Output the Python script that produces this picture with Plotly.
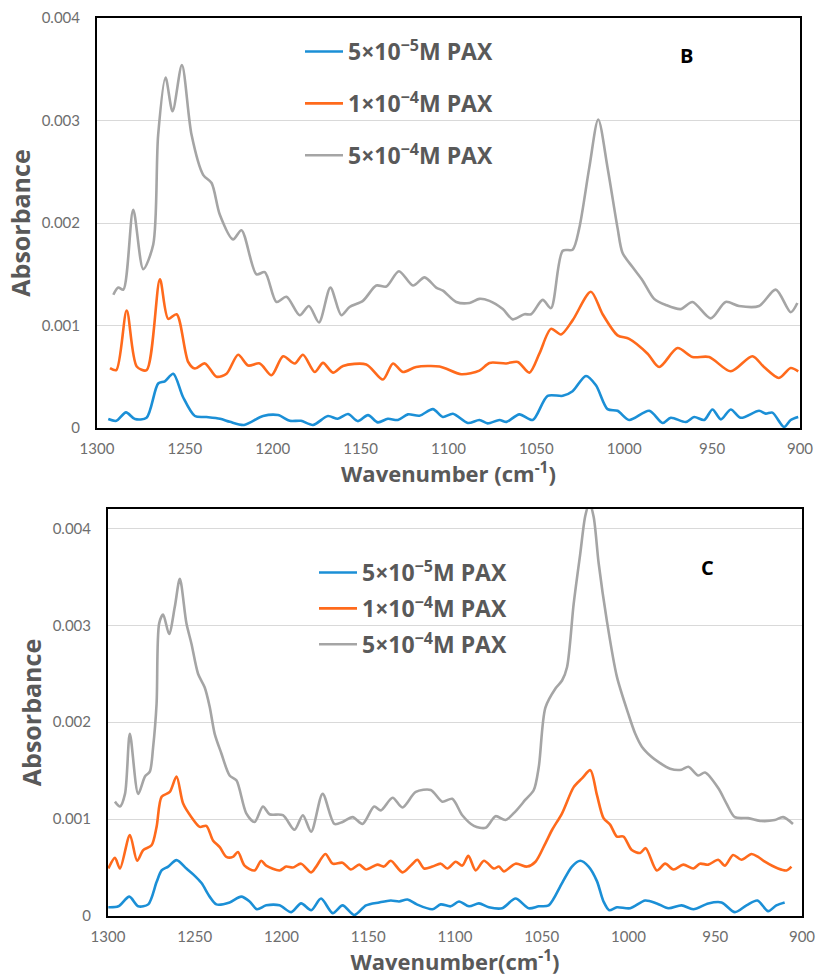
import plotly.graph_objects as go

# ---------------- Panel B data ----------------
b_gray_x = [1290.7, 1287.9, 1285.0, 1279.4, 1273.7, 1268.0, 1265.2, 1261.0, 1257.0, 1251.7, 1246.2,
            1239.6, 1234.8, 1230.1, 1222.6, 1217.8, 1209.3, 1204.5, 1197.9, 1192.2, 1184.7, 1179.4,
            1173.7, 1167.2, 1161.0, 1156.3, 1148.7, 1141.1, 1135.4, 1128.2, 1120.2, 1113.6, 1107.0,
            1103.2, 1095.6, 1088.0, 1082.4, 1076.7, 1069.1, 1063.4, 1056.8, 1053.0, 1046.4, 1041.7,
            1035.0, 1029.4, 1025.6, 1019.9, 1014.8, 1009.5, 1003.8, 1001.0, 995.3, 989.6, 983.0,
            976.3, 967.8, 961.2, 950.8, 942.3, 934.7, 923.3, 913.8, 905.3, 901.5]
b_gray_y = [1.30, 1.37, 1.35, 2.13, 1.55, 1.79, 2.86, 3.42, 3.09, 3.54, 2.86,
            2.47, 2.39, 2.08, 1.84, 1.93, 1.50, 1.52, 1.23, 1.28, 1.10, 1.19,
            1.03, 1.37, 1.10, 1.18, 1.24, 1.39, 1.38, 1.53, 1.39, 1.47, 1.37,
            1.34, 1.23, 1.22, 1.26, 1.24, 1.16, 1.06, 1.11, 1.11, 1.25, 1.17,
            1.73, 1.74, 1.95, 2.54, 3.01, 2.54, 1.95, 1.71, 1.57, 1.44, 1.26,
            1.20, 1.16, 1.23, 1.07, 1.23, 1.19, 1.19, 1.35, 1.13, 1.22]

b_orange_x = [1292.6, 1289.0, 1283.1, 1277.4, 1271.8, 1264.2, 1259.5, 1254.7, 1248.1, 1244.3, 1238.6,
              1232.0, 1226.3, 1219.7, 1214.0, 1207.4, 1200.7, 1194.1, 1187.5, 1182.8, 1176.1, 1171.4,
              1165.7, 1160.0, 1146.8, 1137.3, 1131.6, 1126.0, 1118.4, 1105.1, 1092.8, 1082.4, 1076.7,
              1067.2, 1060.6, 1054.0, 1048.3, 1041.7, 1036.0, 1029.4, 1019.0, 1012.3, 1003.8, 997.2,
              986.7, 980.1, 969.7, 961.2, 951.7, 939.4, 927.1, 920.5, 912.0, 905.3, 901.0]
b_orange_y = [0.585, 0.565, 1.146, 0.600, 0.564, 1.450, 1.065, 1.110, 0.644, 0.580, 0.630,
              0.500, 0.530, 0.715, 0.610, 0.630, 0.515, 0.700, 0.630, 0.715, 0.547, 0.635,
              0.540, 0.605, 0.620, 0.473, 0.630, 0.547, 0.595, 0.600, 0.525, 0.560, 0.635,
              0.630, 0.645, 0.540, 0.725, 0.967, 0.913, 1.050, 1.330, 1.110, 0.904, 0.870,
              0.725, 0.595, 0.780, 0.693, 0.693, 0.553, 0.700, 0.595, 0.488, 0.585, 0.553]

b_blue_x = [1293.6, 1289.0, 1283.5, 1278.4, 1271.8, 1265.2, 1261.4, 1256.6, 1251.0, 1244.3, 1237.7,
            1230.0, 1224.4, 1216.3, 1205.5, 1197.0, 1190.3, 1184.0, 1177.1, 1168.6, 1163.0, 1157.2,
            1151.5, 1145.8, 1140.2, 1134.5, 1128.8, 1123.1, 1116.5, 1108.9, 1103.2, 1097.5, 1089.0,
            1082.4, 1077.7, 1071.0, 1067.0, 1059.7, 1052.1, 1043.6, 1035.0, 1029.4, 1021.8, 1016.1,
            1009.5, 1003.8, 997.2, 985.8, 978.2, 973.5, 965.0, 960.2, 954.5, 949.8, 945.0,
            939.4, 933.7, 923.3, 919.5, 915.7, 909.1, 905.3, 901.0]
b_blue_y = [0.087, 0.070, 0.152, 0.087, 0.100, 0.434, 0.456, 0.530, 0.300, 0.117, 0.107,
            0.090, 0.060, 0.030, 0.117, 0.126, 0.070, 0.070, 0.030, 0.117, 0.090, 0.136,
            0.067, 0.126, 0.055, 0.090, 0.078, 0.133, 0.120, 0.184, 0.107, 0.139, 0.049,
            0.078, 0.045, 0.078, 0.060, 0.133, 0.078, 0.314, 0.314, 0.359, 0.508, 0.417,
            0.184, 0.168, 0.078, 0.168, 0.049, 0.100, 0.058, 0.107, 0.078, 0.181, 0.084,
            0.181, 0.100, 0.168, 0.140, 0.150, 0.010, 0.078, 0.107]

# ---------------- Panel C data ----------------
c_gray_x = [1296.0, 1293.1, 1290.2, 1287.4, 1282.6, 1278.7, 1275.9, 1274.0, 1272.0, 1270.5, 1268.2,
            1264.8, 1261.5, 1258.6, 1254.8, 1251.9, 1248.1, 1244.3, 1241.4, 1238.5, 1234.7, 1229.9,
            1226.0, 1220.3, 1215.5, 1210.7, 1206.9, 1199.2, 1192.5, 1187.7, 1182.9, 1176.3, 1169.5,
            1164.8, 1159.0, 1153.3, 1146.6, 1142.7, 1136.0, 1130.3, 1122.6, 1114.0, 1107.3, 1101.6,
            1095.8, 1089.1, 1082.4, 1076.6, 1070.9, 1065.1, 1059.4, 1054.6, 1051.7, 1047.9, 1042.0,
            1038.3, 1035.4, 1031.6, 1027.8, 1024.9, 1022.5, 1020.1, 1017.2, 1012.5, 1006.7, 1000.0,
            996.1, 992.4, 986.6, 982.8, 976.0, 969.4, 965.5, 959.8, 955.9, 948.3, 943.5,
            938.7, 931.0, 923.4, 915.7, 910.9, 905.2]
c_gray_y = [1.18, 1.13, 1.26, 1.88, 1.26, 1.44, 1.49, 1.74, 2.19, 3.02, 3.11,
            2.91, 3.19, 3.48, 3.02, 2.81, 2.50, 2.36, 2.16, 1.88, 1.68, 1.45,
            1.40, 1.06, 0.97, 1.13, 1.05, 1.04, 0.89, 1.04, 0.87, 1.26, 0.95,
            0.97, 1.02, 0.95, 1.13, 1.09, 1.22, 1.12, 1.28, 1.30, 1.18, 1.21,
            1.04, 0.93, 0.91, 1.03, 0.99, 1.08, 1.20, 1.30, 1.54, 2.15, 2.35,
            2.43, 2.57, 3.22, 3.74, 4.13, 4.26, 4.12, 3.64, 3.05, 2.47, 2.08,
            1.88, 1.75, 1.64, 1.59, 1.52, 1.51, 1.54, 1.45, 1.48, 1.32, 1.16,
            1.02, 1.01, 0.98, 0.99, 1.02, 0.95]

c_orange_x = [1299.8, 1296.0, 1293.1, 1287.4, 1283.2, 1279.7, 1274.9, 1272.0, 1269.1, 1264.4, 1260.5,
              1256.7, 1251.9, 1247.1, 1243.3, 1239.5, 1235.6, 1231.8, 1228.0, 1225.1, 1221.3, 1215.5,
              1211.7, 1208.8, 1201.1, 1197.3, 1193.5, 1188.7, 1182.9, 1180.0, 1174.7, 1170.5, 1164.8,
              1160.0, 1155.2, 1151.3, 1144.7, 1141.0, 1137.0, 1130.3, 1125.0, 1121.7, 1117.8, 1113.0,
              1108.2, 1104.4, 1099.6, 1095.8, 1092.3, 1088.1, 1083.3, 1077.6, 1074.7, 1071.8, 1065.1,
              1058.4, 1053.6, 1047.9, 1044.0, 1038.3, 1031.6, 1026.8, 1022.0, 1018.2, 1014.4, 1010.5,
              1006.7, 1002.9, 998.1, 993.3, 990.1, 983.7, 978.9, 974.1, 968.4, 962.6, 958.8,
              954.0, 948.3, 944.4, 939.7, 934.9, 929.1, 925.3, 921.4, 913.8, 909.0, 906.1]
c_orange_y = [0.49, 0.60, 0.49, 0.835, 0.57, 0.68, 0.73, 0.92, 1.23, 1.28, 1.44,
              1.16, 1.02, 0.92, 0.93, 0.78, 0.71, 0.61, 0.61, 0.66, 0.52, 0.47,
              0.57, 0.52, 0.47, 0.51, 0.50, 0.54, 0.45, 0.51, 0.64, 0.54, 0.55,
              0.48, 0.53, 0.48, 0.53, 0.51, 0.57, 0.45, 0.53, 0.58, 0.49, 0.51,
              0.54, 0.49, 0.56, 0.52, 0.62, 0.47, 0.57, 0.49, 0.51, 0.46, 0.54,
              0.51, 0.56, 0.75, 0.89, 1.06, 1.33, 1.42, 1.505, 1.25, 1.01, 0.94,
              0.82, 0.82, 0.68, 0.65, 0.70, 0.47, 0.54, 0.48, 0.53, 0.49, 0.54,
              0.53, 0.58, 0.52, 0.63, 0.58, 0.64, 0.61, 0.56, 0.49, 0.47, 0.51]

c_blue_x = [1299.8, 1294.0, 1287.7, 1282.6, 1276.8, 1272.0, 1269.1, 1265.3, 1260.5, 1254.8, 1250.9,
            1246.1, 1241.4, 1237.5, 1229.9, 1223.2, 1218.4, 1214.2, 1208.8, 1201.1, 1194.4, 1188.7,
            1182.9, 1177.2, 1170.5, 1164.8, 1158.0, 1151.3, 1143.7, 1137.0, 1132.2, 1127.4, 1122.0,
            1113.0, 1108.2, 1102.5, 1097.7, 1091.9, 1086.2, 1080.5, 1072.8, 1065.1, 1057.5, 1051.7,
            1046.0, 1038.3, 1032.6, 1027.8, 1023.0, 1018.2, 1014.4, 1011.1, 1006.7, 999.0, 990.4,
            983.7, 977.0, 969.4, 962.6, 954.0, 946.4, 938.7, 932.0, 925.7, 919.5, 914.8, 910.0]
c_blue_y = [0.09, 0.10, 0.20, 0.10, 0.12, 0.35, 0.47, 0.51, 0.577, 0.49, 0.43,
            0.34, 0.20, 0.12, 0.14, 0.20, 0.15, 0.07, 0.11, 0.11, 0.04, 0.13,
            0.06, 0.18, 0.03, 0.11, 0.01, 0.11, 0.14, 0.16, 0.15, 0.17, 0.12,
            0.07, 0.12, 0.10, 0.15, 0.10, 0.13, 0.09, 0.08, 0.18, 0.08, 0.10,
            0.11, 0.34, 0.51, 0.57, 0.51, 0.36, 0.15, 0.06, 0.09, 0.08, 0.16,
            0.13, 0.08, 0.11, 0.07, 0.13, 0.14, 0.04, 0.11, 0.16, 0.05, 0.11, 0.14]

series_names = ["<b>5×10<sup>−5</sup>M PAX</b>", "<b>1×10<sup>−4</sup>M PAX</b>",
                "<b>5×10<sup>−4</sup>M PAX</b>"]
series_colors = ["#1b8fd6", "#ff6a1c", "#a5a5a5"]

y_ticks = [0, 0.001, 0.002, 0.003, 0.004]
y_ticktext = ["0", "0.001", "0.002", "0.003", "0.004"]
x_ticks = [1300, 1250, 1200, 1150, 1100, 1050, 1000, 950, 900]

W, H = 818, 978
fig = go.Figure()

panel_b = [(b_blue_x, b_blue_y), (b_orange_x, b_orange_y), (b_gray_x, b_gray_y)]
panel_c = [(c_blue_x, c_blue_y), (c_orange_x, c_orange_y), (c_gray_x, c_gray_y)]

for i, (xs, ys) in enumerate(panel_b):
    fig.add_trace(go.Scatter(
        x=xs, y=[v / 1000 for v in ys], mode="lines", name=series_names[i],
        line=dict(color=series_colors[i], width=2.6, shape="spline", smoothing=0.8),
        xaxis="x", yaxis="y", legend="legend", legendgroup="b%d" % i))
for i, (xs, ys) in enumerate(panel_c):
    fig.add_trace(go.Scatter(
        x=xs, y=[v / 1000 for v in ys], mode="lines", name=series_names[i],
        line=dict(color=series_colors[i], width=2.6, shape="spline", smoothing=0.8),
        xaxis="x2", yaxis="y2", legend="legend2", legendgroup="c%d" % i))

tick_font = dict(family="Lato, sans-serif", size=15, color="#6e6e6e")
xtitle_font = dict(family="Open Sans, sans-serif", size=22, color="#595959")
ytitle_font = dict(family="Open Sans, sans-serif", size=25, color="#595959")
legend_font = dict(family="Open Sans, sans-serif", size=23, color="#595959")

def xax(domain, title, anchor):
    return dict(domain=domain, range=[1300, 900], tickvals=x_ticks, showgrid=False,
                zeroline=False, showline=True, mirror=True, linecolor="black", linewidth=2,
                ticks="", tickfont=tick_font, ticklabelstandoff=6, automargin=False,
                anchor=anchor, title=dict(text=title, font=xtitle_font, standoff=0))

def yax(domain, rng, anchor):
    return dict(domain=domain, range=rng, tickvals=y_ticks, ticktext=y_ticktext,
                showgrid=True, gridcolor="#d9d9d9", gridwidth=1.2, zeroline=False,
                showline=True, mirror=True, linecolor="black", linewidth=2,
                ticks="", tickfont=tick_font, ticklabelstandoff=12, anchor=anchor,
                automargin=False,
                title=dict(text="<b>Absorbance</b>", font=ytitle_font, standoff=4))

fig.update_layout(
    width=W, height=H, margin=dict(l=0, r=0, t=0, b=0, autoexpand=False),
    paper_bgcolor="white", plot_bgcolor="white",
    xaxis=xax([97 / W, 800 / W], "<b>Wavenumber (cm<sup>-1</sup>)</b>", "y"),
    yaxis=yax([1 - 428 / H, 1 - 18 / H], [0, 0.004], "x"),
    xaxis2=xax([108 / W, 802 / W], "<b>Wavenumber(cm<sup>-1</sup>)</b>", "y2"),
    yaxis2=yax([1 - 916 / H, 1 - 509 / H], [0, 0.0042], "x2"),
    legend=dict(x=300 / W, y=1 - 30 / H, xanchor="left", yanchor="top",
                font=legend_font, bgcolor="rgba(0,0,0,0)", tracegroupgap=19,
                traceorder="grouped", itemwidth=38),
    legend2=dict(x=314 / W, y=1 - 551 / H, xanchor="left", yanchor="top",
                 font=legend_font, bgcolor="rgba(0,0,0,0)", tracegroupgap=3,
                 traceorder="grouped", itemwidth=38),
    showlegend=True,
    annotations=[
        dict(text="<b>B</b>", x=686 / W, y=1 - 55 / H, xref="paper", yref="paper",
             xanchor="center", yanchor="middle", showarrow=False,
             font=dict(family="Open Sans, sans-serif", size=20, color="black")),
        dict(text="<b>C</b>", x=707 / W, y=1 - 567 / H, xref="paper", yref="paper",
             xanchor="center", yanchor="middle", showarrow=False,
             font=dict(family="Open Sans, sans-serif", size=20, color="black")),
    ],
)

fig.write_html("out.html")
